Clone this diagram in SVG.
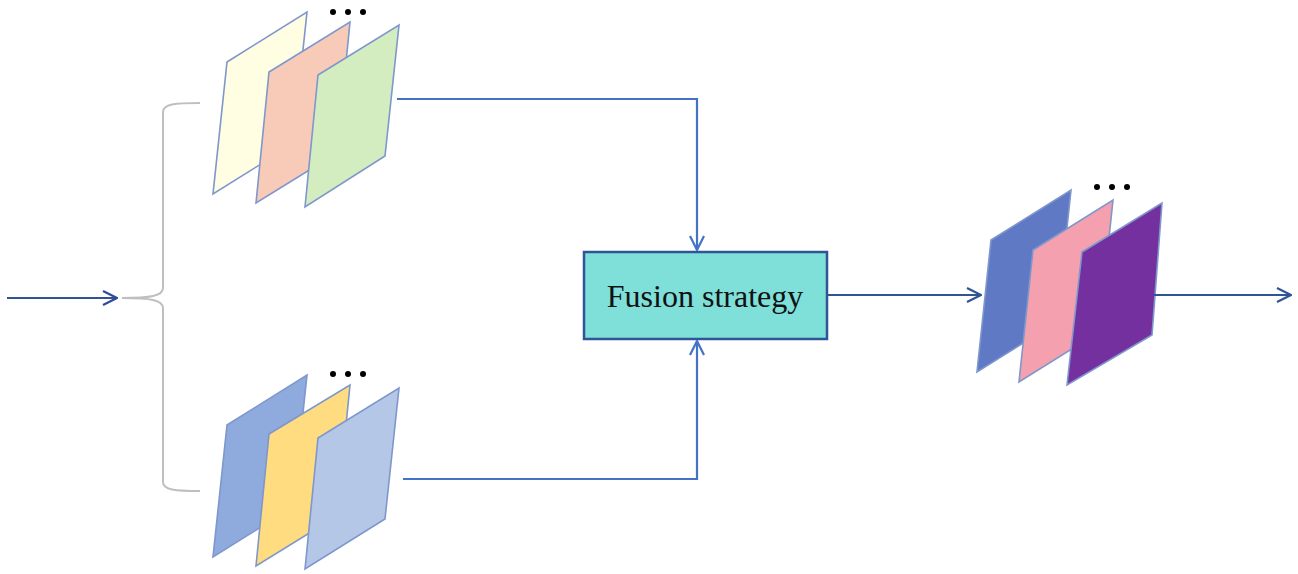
<svg xmlns="http://www.w3.org/2000/svg" width="1298" height="574" viewBox="0 0 1298 574">
<style>
.sheet{stroke:#7E97CC;stroke-width:1.6;stroke-linejoin:miter}
.dot{fill:#000}
.ln{fill:none;stroke:#4472C4;stroke-width:2.2}
.ln2{fill:none;stroke:#2F5597;stroke-width:2.2}
.brace{fill:none;stroke:#BFBFBF;stroke-width:2}
.box{fill:#7FDFD9;stroke:#2F5597;stroke-width:2.5}
.lbl{font-family:"Liberation Serif","Times New Roman",serif;font-size:32px;fill:#111}
</style>
<defs>
<marker id="ah2" viewBox="0 0 16 16" refX="15" refY="8" markerWidth="16" markerHeight="16" markerUnits="userSpaceOnUse" orient="auto">
<path d="M1,1 L15,8 L1,15" fill="none" stroke="#2F5597" stroke-width="2.2"/>
</marker>
<marker id="ah1" viewBox="0 0 16 16" refX="15" refY="8" markerWidth="16" markerHeight="16" markerUnits="userSpaceOnUse" orient="auto">
<path d="M1,1 L15,8 L1,15" fill="none" stroke="#4472C4" stroke-width="2.2"/>
</marker>
<marker id="ah0" viewBox="0 0 16 16" refX="15" refY="8" markerWidth="16" markerHeight="16" markerUnits="userSpaceOnUse" orient="auto">
<path d="M1,1 L15,8 L1,15" fill="none" stroke="#2E4A9A" stroke-width="2.2"/>
</marker>
</defs>

<g id="brace">
<path class="brace" d="M200,103 C175,103 163,104 163,112 L163,288 C163,296 150,298 122,298 C150,298 163,300 163,308 L163,482 C163,490 175,491 200,491"/>
</g>

<g id="top-stack">
<polygon class="sheet" fill="#FFFDE2" points="227,62 307,12 293,144 213,194"/>
<polygon class="sheet" fill="#F8CBB8" points="269,72 350,22 337,153 256,203"/>
<polygon class="sheet" fill="#D3EDC1" points="318,75 399,25 385,156 305,207"/>
<circle class="dot" cx="333" cy="12" r="3"/>
<circle class="dot" cx="348" cy="12" r="3"/>
<circle class="dot" cx="363" cy="12" r="3"/>
</g>

<g id="bottom-stack">
<polygon class="sheet" fill="#8FAADC" points="227,425 307,375 293,507 213,557"/>
<polygon class="sheet" fill="#FFDC80" points="269,434 350,385 337,516 256,566"/>
<polygon class="sheet" fill="#B4C7E7" points="318,438 399,388 385,519 305,569"/>
<circle class="dot" cx="333" cy="374" r="3"/>
<circle class="dot" cx="348" cy="374" r="3"/>
<circle class="dot" cx="363" cy="374" r="3"/>
</g>

<g id="fusion">
<rect class="box" x="584" y="252" width="243" height="87"/>
<text class="lbl" x="705" y="307" text-anchor="middle">Fusion strategy</text>
</g>

<g id="output-stack">
<polygon class="sheet" fill="#6079C4" points="991,240 1071,190 1057,322 977,372"/>
<polygon class="sheet" fill="#F4A0AE" points="1033,250 1113,200 1099,332 1019,382"/>
<polygon class="sheet" fill="#7530A0" points="1082,252 1162,203 1152,335 1067,385"/>
<circle class="dot" cx="1097" cy="187" r="3"/>
<circle class="dot" cx="1112" cy="187" r="3"/>
<circle class="dot" cx="1127" cy="187" r="3"/>
</g>

<g id="connectors">
<path class="ln2" d="M7,298 L117,298" stroke="#2E4A9A" marker-end="url(#ah0)"/>
<path class="ln" d="M397,99 L697,99 L697,250" marker-end="url(#ah1)"/>
<path class="ln" d="M403,479 L697,479 L697,341" marker-end="url(#ah1)"/>
<path class="ln2" d="M827,295 L981,295" marker-end="url(#ah2)"/>
<path class="ln2" d="M1154,295 L1291,295" marker-end="url(#ah2)"/>
</g>
</svg>
